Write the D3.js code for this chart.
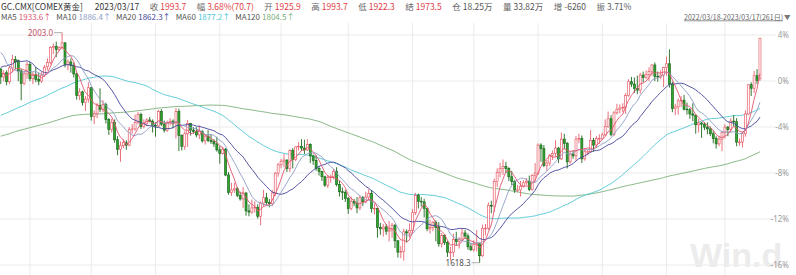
<!DOCTYPE html>
<html>
<head>
<meta charset="utf-8">
<script src="https://cdn.jsdelivr.net/npm/d3@7"></script>
<style>
body { margin: 0; background: #fff; }
svg { display: block; font-family: "Noto Sans CJK SC", "Noto Sans", sans-serif; }
</style>
</head>
<body>
<svg id="chart" width="796" height="275"></svg>
<script>

// closes before the window (2021/10/01 - 2022/03/17), only used for the moving averages
let preCloses = [
    1758,1768,1760,1761,1756,1757,1754,1760,1793,1797,1768,1765,1770,1782,1782,1796,1806,1793,1798,1802,1783,
    1794,1788,1763,1793,1818,1825,1830,1849,1862,1868,1867,1853,1869,1861,1852,1804,1782,1784,1788,1788,1785,1776,
    1782,1762,1783,1779,1785,1783,1775,1783,1787,1771,1764,1798,1804,1792,1789,1803,1808,1808,1808,1810,1805,1814,1828,
    1800,1814,1810,1789,1797,1798,1818,1826,1821,1818,1818,1812,1843,1842,1832,1842,1852,1829,1794,1786,1795,
    1801,1807,1805,1807,1820,1827,1834,1836,1842,1869,1855,1871,1899,1900,1906,1908,1910,1926,1887,1900,
    1944,1922,1936,1966,1995,2043,1988,2000,1985,1960,1929,1929,1943
];

// daily [open, high, low, close], 2022/03/18 - 2023/03/17, one row per weekday
let candles = [
    // 2022-03
    [1942,1944,1917,1929],[1929,1940,1922,1935],[1936,1940,1915,1921],[1921,1948,1917,1944],[1944,1966,1937,1958],
    [1958,1964,1942,1954],[1956,1958,1922,1939],[1939,1942,1890,1918],[1918,1939,1915,1934],[1934,1954,1926,1950],
    // 2022-04
    [1950,1954,1922,1926],[1926,1937,1917,1932],[1932,1945,1920,1925],[1925,1936,1915,1922],[1922,1937,1919,1932],
    [1932,1949,1929,1945],[1946,1960,1940,1953],[1953,1980,1950,1978],[1978,1985,1967,1980],[1980,1988,1962,1975],
    [1975,1980,1972,1978],[1978,2003.0,1975,1986],[1986,1987,1945,1950],[1950,1958,1940,1954],[1954,1960,1936,1948],
    [1948,1953,1928,1934],[1934,1936,1891,1898],[1898,1910,1890,1904],[1904,1906,1881,1886],[1886,1897,1872,1892],
    [1892,1920,1886,1911],
    // 2022-05
    [1911,1912,1856,1863],[1863,1873,1850,1868],[1868,1885,1860,1881],[1881,1910,1870,1875],[1875,1890,1870,1883],
    [1883,1886,1851,1858],[1858,1860,1832,1841],[1841,1859,1836,1853],[1853,1858,1819,1824],[1824,1830,1798,1808],
    [1808,1821,1787,1814],[1814,1825,1810,1819],[1819,1823,1807,1815],[1815,1845,1813,1841],[1841,1850,1834,1842],
    [1842,1866,1839,1853],[1853,1870,1850,1866],[1866,1869,1842,1846],[1846,1858,1843,1851],[1851,1860,1847,1857],
    [1857,1862,1853,1855],[1855,1858,1836,1848],
    // 2022-06
    [1848,1853,1829,1847],[1847,1874,1845,1871],[1871,1875,1847,1850],[1850,1856,1836,1840],[1840,1856,1837,1852],
    [1852,1860,1848,1855],[1855,1858,1843,1852],[1852,1877,1826,1871],[1871,1876,1805,1831],[1831,1833,1806,1813],
    [1813,1838,1807,1834],[1834,1857,1812,1851],[1851,1852,1831,1840],[1840,1845,1834,1838],[1838,1845,1828,1832],
    [1832,1848,1825,1838],[1838,1840,1819,1822],[1822,1833,1816,1830],[1830,1840,1820,1823],[1823,1833,1817,1821],
    [1821,1825,1812,1817],[1817,1829,1804,1807],
    // 2022-07
    [1807,1813,1784,1801],[1801,1812,1799,1808],[1808,1810,1763,1765],[1765,1770,1732,1736],[1736,1752,1730,1740],
    [1740,1752,1735,1742],[1742,1745,1728,1731],[1731,1737,1722,1725],[1725,1745,1710,1735],[1735,1736,1697,1705],
    [1705,1716,1696,1703],[1703,1724,1700,1710],[1710,1721,1702,1711],[1711,1716,1692,1696],[1696,1721,1681,1718],
    [1718,1740,1712,1727],[1727,1735,1715,1719],[1719,1725,1711,1717],[1717,1740,1713,1735],[1735,1770,1730,1768],
    [1768,1785,1762,1782],
    // 2022-08
    [1782,1792,1776,1788],[1788,1800,1778,1790],[1790,1791,1770,1776],[1776,1808,1770,1806],[1806,1810,1776,1791],
    [1791,1813,1788,1812],[1812,1820,1806,1813],[1813,1825,1805,1810],[1810,1824,1800,1807],[1807,1825,1805,1816],
    [1816,1818,1785,1797],[1797,1799,1782,1789],[1789,1798,1772,1776],[1776,1780,1764,1771],[1771,1772,1755,1762],
    [1762,1764,1745,1748],[1748,1765,1743,1761],[1761,1766,1752,1762],[1762,1775,1758,1771],[1771,1778,1746,1749],
    [1749,1755,1729,1737],[1737,1744,1723,1736],[1736,1740,1720,1726],
    // 2022-09
    [1726,1728,1700,1709],[1709,1729,1706,1721],[1721,1725,1713,1718],[1718,1728,1701,1710],[1710,1731,1706,1727],
    [1727,1730,1713,1720],[1720,1737,1718,1728],[1728,1741,1723,1734],[1734,1740,1702,1709],[1709,1717,1699,1709],
    [1709,1710,1660,1677],[1677,1685,1665,1675],[1675,1683,1662,1678],[1678,1683,1665,1671],[1671,1688,1654,1673],
    [1673,1685,1660,1681],[1681,1683,1643,1655],[1655,1656,1627,1636],[1636,1646,1626,1637],[1637,1675,1622,1670],
    [1670,1674,1652,1668],[1668,1684,1660,1672],
    // 2022-10
    [1672,1708,1667,1702],[1702,1735,1698,1731],[1731,1734,1709,1721],[1721,1728,1712,1720],[1720,1725,1694,1709],
    [1709,1710,1671,1675],[1675,1690,1667,1677],[1677,1688,1671,1686],[1686,1689,1654,1677],[1677,1686,1645,1650],
    [1650,1668,1644,1664],[1664,1666,1648,1652],[1652,1655,1628,1636],[1636,1645,1622,1636],[1636,1667,1628,1657],
    [1657,1670,1647,1654],[1654,1661,1642,1658],[1658,1675,1655,1668],[1668,1673,1658,1663],[1663,1667,1640,1645],
    [1645,1651,1638,1640],
    // 2022-11
    [1640,1656,1637,1649],[1649,1673,1637,1650],[1650,1652,1618.3,1630],[1630,1682,1628,1676],[1676,1683,1664,1676],
    [1676,1719,1673,1714],[1714,1722,1701,1713],[1713,1759,1703,1754],[1754,1776,1745,1769],[1769,1785,1761,1776],
    [1776,1791,1765,1779],[1779,1787,1768,1776],[1776,1778,1755,1762],[1762,1772,1748,1754],[1754,1757,1735,1740],
    [1740,1748,1736,1740],[1740,1755,1729,1746],[1746,1756,1744,1752],[1752,1760,1748,1754],[1754,1764,1738,1741],
    [1741,1766,1739,1764],[1764,1785,1753,1768],
    // 2022-12
    [1768,1818,1765,1815],[1815,1818,1787,1809],[1809,1815,1778,1781],[1781,1790,1772,1785],[1785,1800,1780,1798],
    [1798,1806,1790,1801],[1801,1823,1795,1810],[1810,1812,1785,1792],[1792,1836,1790,1825],[1825,1834,1808,1818],
    [1818,1820,1776,1787],[1787,1805,1784,1800],[1800,1806,1792,1797],[1797,1830,1789,1825],[1825,1834,1818,1826],
    [1826,1831,1785,1792],[1792,1810,1789,1804],[1804,1807,1798,1804],[1804,1840,1802,1823],[1823,1827,1804,1815],
    [1815,1830,1810,1826],[1826,1833,1817,1826],
    // 2023-01
    [1826,1836,1824,1832],[1832,1858,1830,1846],[1846,1871,1844,1859],[1859,1865,1830,1833],[1833,1872,1830,1869],
    [1869,1884,1866,1875],[1875,1883,1868,1877],[1877,1885,1870,1878],[1878,1902,1867,1898],[1898,1925,1896,1921],
    [1921,1929,1912,1917],[1917,1928,1902,1910],[1910,1931,1900,1907],[1907,1936,1901,1932],[1932,1938,1920,1928],
    [1928,1940,1925,1933],[1933,1945,1922,1938],[1938,1950,1931,1949],[1949,1953,1922,1930],[1930,1938,1921,1929],
    [1929,1940,1925,1932],[1932,1946,1912,1945],
    // 2023-02
    [1945,1963,1931,1951],[1951,1975,1911,1917],[1917,1921,1870,1876],[1876,1884,1865,1879],[1879,1893,1866,1889],
    [1889,1897,1879,1890],[1890,1899,1873,1875],[1875,1886,1866,1874],[1874,1877,1859,1867],[1867,1885,1855,1865],
    [1865,1866,1834,1849],[1849,1859,1836,1852],[1852,1853,1827,1850],[1850,1853,1840,1845],[1845,1853,1833,1842],
    [1842,1846,1830,1834],[1834,1839,1818,1826],[1826,1830,1809,1817],[1817,1830,1813,1825],[1825,1838,1805,1836],
    // 2023-03
    [1836,1850,1826,1845],[1845,1847,1830,1841],[1841,1860,1836,1855],[1855,1865,1846,1854],[1854,1860,1813,1820],
    [1820,1826,1814,1820],[1820,1838,1811,1834],[1834,1873,1829,1867],[1867,1917,1865,1916],[1916,1920,1897,1910],
    [1910,1939,1902,1931],[1931,1942,1917,1923],[1925.9,1993.7,1922.3,1993.7]
];

// first trading day of each month (index in candles)
let monthStarts = [10, 31, 53, 75, 96, 119, 141, 162, 184, 206, 228, 248];

let baseClose = 1923.0;
let pctTicks = [4, 0, -4, -8, -12, -16];

let maPeriods = [5, 10, 20, 60, 120];
let maNames = ["MA5", "MA10", "MA20", "MA60", "MA120"];
let maValues = ["1933.6↑", "1886.4↑", "1862.3↑", "1877.2↑", "1804.5↑"];
let maColors = ["#e0566e", "#8d9cc6", "#43449a", "#52c6d4", "#7aaf7a"];

let headerLabels = ["", "", "收", "幅", "开", "高", "低", "结", "仓", "量", "增", "振"];
let headerValues = ["GC.CMX[COMEX黄金]", "2023/03/17", "1993.7", "3.68%(70.7)", "1925.9", "1993.7",
                    "1922.3", "1973.5", "18.25万", "33.82万", "-6260", "3.71%"];
let headerColors = ["#333", "#333", "#e03c44", "#e03c44", "#e03c44", "#e03c44",
                    "#e03c44", "#e03c44", "#555", "#555", "#555", "#555"];

let rangeLabel = "2022/03/18-2023/03/17(261日)";

let up_color = "#e8606c";
let down_fill = "#2fa52f";
let down_stroke = "#1e6a1e";
let grid_color = "#ebebeb";

let svg = d3.select("#chart");

let xScale = d3.scaleBand()
               .domain(d3.range(candles.length))
               .range([-0.7, -0.7 + 2.92 * candles.length]);

let yScale = d3.scaleLinear()
               .domain([baseClose * (1 - 0.16), baseClose * (1 + 0.04)])
               .range([264.5, 34.5]);

let tickPrices = pctTicks.map(t => baseClose * (1 + t / 100));

// grid
svg.append("g")
    .attr("class", "grid")
    .call(d3.axisRight(yScale).tickValues(tickPrices).tickSize(776).tickFormat(""))
    .call(g => g.select(".domain").remove())
    .call(g => g.selectAll("line").attr("stroke", grid_color));

svg.append("g")
    .attr("class", "grid")
    .attr("transform", "translate(0,275)")
    .call(d3.axisBottom(xScale).tickValues(monthStarts).tickSize(-252).tickFormat(""))
    .call(g => g.select(".domain").remove())
    .call(g => g.selectAll("line").attr("stroke", grid_color));

// watermark
svg.append("text")
    .attr("x", 690)
    .attr("y", 267)
    .attr("fill", "#ececec")
    .style("font-family", "'Liberation Sans', Arial, sans-serif")
    .style("font-size", "34px")
    .style("font-weight", "bold")
    .text("Win.d");

// percent axis
svg.append("g")
    .attr("transform", "translate(790,0)")
    .call(d3.axisLeft(yScale).tickValues(tickPrices).tickSize(0).tickPadding(1)
            .tickFormat((d, i) => pctTicks[i] + "%"))
    .call(g => g.select(".domain").remove())
    .call(g => g.selectAll("text").attr("fill", "#9a9a9a").style("font-size", "8px")
                 .style("font-family", "'Noto Sans', sans-serif"));

// moving averages
let allCloses = preCloses.concat(candles.map(d => d[3]));
let offset = preCloses.length;

function moving_average(n) {
    let res = [];
    for (let i = 0; i < candles.length; i++) {
        let end = offset + i + 1;
        res.push(d3.mean(allCloses.slice(end - n, end)));
    }
    return res;
}

let cx = i => xScale(i) + xScale.bandwidth() / 2;

let maLine = d3.line()
               .x((d, i) => cx(i))
               .y(d => yScale(d));

function draw_ma(k) {
    svg.append("path")
        .datum(moving_average(maPeriods[k]))
        .attr("d", maLine)
        .attr("fill", "none")
        .attr("stroke", maColors[k])
        .attr("stroke-width", 0.9);
}

draw_ma(4);
draw_ma(3);

// candles
let bw = 2;
function is_up(d, i) {
    if (d[3] != d[0]) return d[3] > d[0];
    let prev = i > 0 ? candles[i - 1][3] : preCloses[preCloses.length - 1];
    return d[3] >= prev;
}

let candle_g = svg.selectAll(".candle")
    .data(candles)
    .enter()
    .append("g")
    .attr("class", "candle");

candle_g.append("line")
    .attr("x1", (d, i) => cx(i))
    .attr("x2", (d, i) => cx(i))
    .attr("y1", d => yScale(d[1]))
    .attr("y2", d => yScale(d[2]))
    .attr("stroke", (d, i) => is_up(d, i) ? up_color : down_stroke)
    .attr("stroke-width", 0.9);

candle_g.append("rect")
    .attr("x", (d, i) => cx(i) - bw / 2)
    .attr("y", d => yScale(Math.max(d[0], d[3])))
    .attr("width", bw)
    .attr("height", d => Math.max(0.6, Math.abs(yScale(d[0]) - yScale(d[3]))))
    .attr("fill", (d, i) => is_up(d, i) ? "#fff" : down_fill)
    .attr("stroke", (d, i) => is_up(d, i) ? up_color : down_stroke)
    .attr("stroke-width", 0.7);

draw_ma(2);
draw_ma(1);
draw_ma(0);

// high / low markers
let hi = d3.maxIndex(candles, d => d[1]);
let lo = d3.minIndex(candles, d => d[2]);

function mark(i, price, color, dx) {
    let px = cx(i), py = yScale(price);
    svg.append("line")
        .attr("x1", px).attr("x2", px + dx)
        .attr("y1", py).attr("y2", py)
        .attr("stroke", "#999").attr("stroke-width", 0.8);
    svg.append("text")
        .attr("x", px + dx - 1)
        .attr("y", py + 3)
        .attr("text-anchor", "end")
        .attr("fill", color)
        .style("font-size", "8px")
        .style("font-family", "'Noto Sans', sans-serif")
        .text(price.toFixed(1));
}
mark(hi, candles[hi][1], "#c05060", -8);
mark(lo, candles[lo][2], "#555", -8);

// header, first row
let hx = 1;
headerValues.forEach((v, i) => {
    if (headerLabels[i] !== "") {
        let t = svg.append("text").attr("x", hx).attr("y", 9.5)
                   .attr("fill", "#666").style("font-size", "8.5px").text(headerLabels[i]);
        hx += t.node().getComputedTextLength() + 2;
    }
    let t = svg.append("text").attr("x", hx).attr("y", 9.5)
               .attr("fill", headerColors[i]).style("font-size", "8.5px").text(v);
    hx += t.node().getComputedTextLength() + (i == 0 ? 12 : 10.5);
});

// header, MA row
let mx = 1;
maNames.forEach((n, i) => {
    let t = svg.append("text").attr("x", mx).attr("y", 20)
               .attr("fill", "#555").style("font-size", "8px").text(n);
    mx += t.node().getComputedTextLength() + 2;
    t = svg.append("text").attr("x", mx).attr("y", 20)
           .attr("fill", maColors[i]).style("font-size", "8px").text(maValues[i]);
    mx += t.node().getComputedTextLength() + 5;
});

// date range, top right
svg.append("text")
    .attr("x", 783)
    .attr("y", 19.5)
    .attr("text-anchor", "end")
    .attr("fill", "#666")
    .attr("text-decoration", "underline")
    .style("font-size", "7px")
    .text(rangeLabel);
svg.append("text")
    .attr("x", 784)
    .attr("y", 19.5)
    .attr("fill", "#777")
    .style("font-size", "6.5px")
    .text("▼");

</script>
</body>
</html>
